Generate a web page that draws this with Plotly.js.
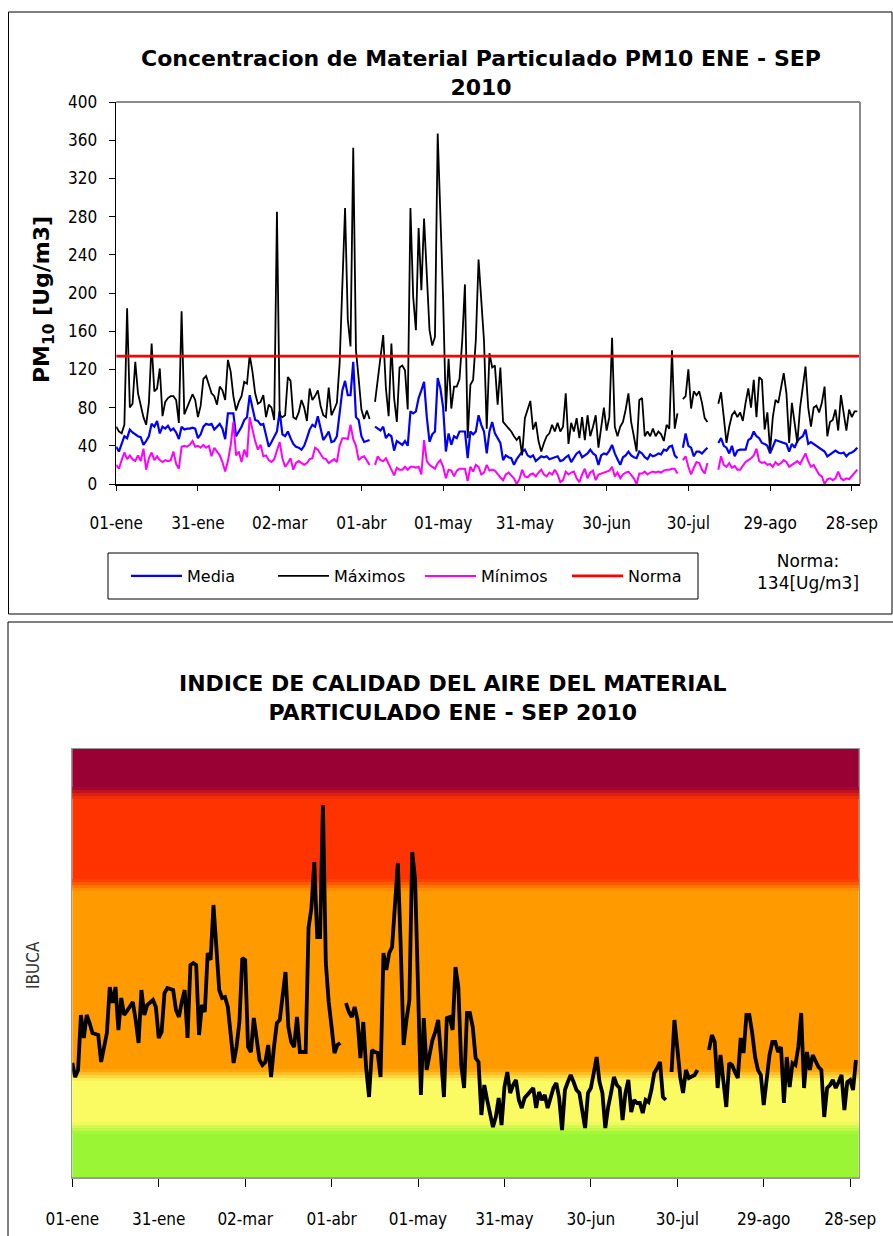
<!DOCTYPE html>
<html><head><meta charset="utf-8">
<script src="https://cdn.plot.ly/plotly-3.0.1.min.js"></script>
<style>html,body{margin:0;padding:0;background:#fff;}#chart{width:893px;height:1236px;}</style>
</head><body><div id="chart"></div>
<script>
// ---------------- DATA ----------------
const startDate = '2010-01-01';
const endDate = '2010-10-01';
const tickDates = ['2010-01-01','2010-01-31','2010-03-02','2010-04-01','2010-05-01','2010-05-31','2010-06-30','2010-07-30','2010-08-29','2010-09-28'];
const tickLabels = ['01-ene','31-ene','02-mar','01-abr','01-may','31-may','30-jun','30-jul','29-ago','28-sep'];
const seriesNames = ['Media','Máximos','Mínimos','Norma'];
const norma = 134;

const maximos = [
60,55,53,62,184,80,84,128,95,82,
70,62,85,147,97,100,121,71,86,90,
92,92,88,64,181,73,80,88,94,88,
70,82,110,113,105,95,92,83,102,98,
88,130,118,92,77,86,92,107,105,135,
118,95,84,86,93,70,83,80,67,285,
72,70,72,112,108,70,68,75,88,80,
66,100,88,92,98,82,72,70,101,72,
78,85,126,200,289,172,144,352,140,110,
78,68,77,68,null,86,110,135,156,100,
71,147,90,65,122,124,119,78,289,196,
161,268,203,278,220,161,145,154,367,290,
193,76,131,79,102,102,110,150,209,48,
104,109,151,235,190,150,58,137,122,124,
83,122,65,62,58,55,50,46,50,30,
69,77,87,57,65,45,34,43,50,53,
62,55,64,55,60,95,42,64,55,69,
48,70,46,72,50,60,72,38,60,80,
56,70,153,60,50,60,65,78,95,65,
50,34,88,90,50,55,50,58,50,55,
52,45,62,58,140,58,74,null,89,92,
120,79,97,93,97,85,69,65,null,null,
null,84,96,70,43,60,72,76,70,75,
66,85,100,80,109,70,112,109,57,75,
35,70,88,85,100,116,95,43,85,65,
43,80,99,123,80,60,80,82,75,85,
102,50,65,67,78,56,93,72,56,78,
70,76,76];

const media = [
39,34,42,50,48,57,54,52,50,49,
41,45,50,63,60,66,53,60,58,61,
56,58,54,47,60,57,58,58,59,58,
48,52,60,63,62,63,57,60,63,58,
47,74,74,74,50,55,60,67,70,93,
80,67,66,62,63,52,39,44,50,55,
76,52,50,55,48,42,39,38,36,40,
48,57,62,60,71,60,46,50,55,44,
45,50,76,98,108,93,93,128,70,67,
50,44,45,46,null,60,58,56,60,48,
52,50,35,45,43,41,45,40,76,74,
76,90,98,107,70,44,52,55,111,100,
80,34,53,41,50,48,55,55,55,27,
55,52,55,72,62,55,32,55,65,53,
48,43,25,30,28,27,20,26,30,34,
36,30,28,30,24,27,29,28,29,26,
27,28,29,24,25,28,30,23,28,32,
34,28,30,32,36,32,30,20,30,32,
31,35,41,32,26,20,28,30,34,30,
28,27,34,32,28,26,31,29,30,32,
31,36,35,39,40,30,27,null,38,53,
40,38,29,34,34,32,35,38,null,null,
null,43,48,40,38,32,40,29,35,36,
36,36,46,48,55,50,48,43,42,40,
32,40,46,45,44,43,42,34,42,38,
45,48,50,57,42,44,42,40,38,36,
34,29,31,33,35,33,32,33,29,32,
33,35,38];

const minimos = [
20,16,25,33,26,30,26,24,30,24,
37,15,27,33,25,29,25,23,25,24,
25,34,21,16,39,40,39,41,45,39,
40,38,41,38,40,29,38,34,30,23,
13,24,40,65,30,34,23,36,28,70,
56,45,36,41,29,30,25,23,26,35,
44,27,18,22,27,15,22,24,22,20,
22,26,27,38,36,32,27,26,22,24,
26,23,40,48,48,47,62,47,40,25,
28,29,24,20,null,20,29,25,24,27,
20,15,9,17,15,15,18,15,18,18,
17,18,10,46,24,20,18,16,22,25,
18,6,15,14,8,14,16,16,16,3,
18,13,20,18,10,12,20,14,15,14,
10,7,4,10,12,9,6,0,5,15,
8,7,10,11,8,12,15,10,8,12,
10,15,10,2,4,13,10,12,13,6,
2,10,16,6,12,14,4,10,11,12,
13,14,18,8,12,6,10,12,13,10,
6,0,11,11,13,10,12,13,12,13,
12,14,15,15,16,16,11,null,25,29,
18,10,17,23,22,15,11,22,null,null,
null,15,29,20,18,22,17,19,15,15,
19,23,25,27,30,37,24,22,23,20,
21,18,23,20,22,25,23,18,20,22,
24,21,27,32,24,18,20,15,10,8,
0,5,6,4,6,13,6,4,6,5,
8,11,15];

const ibuca = [
114,100,107,162,139,162,154,144,143,142,
115,130,144,190,174,190,147,179,162,166,
170,175,157,134,187,162,172,175,177,170,
139,145,184,189,188,187,167,160,175,187,
139,212,214,212,142,172,165,224,217,272,
230,187,179,180,170,140,114,130,155,219,
217,130,125,159,135,117,112,115,132,100,
130,154,157,180,205,150,135,130,160,125,
125,125,249,269,315,240,240,372,214,175,
150,124,132,134,null,174,165,160,170,157,
119,155,109,80,127,125,124,100,224,207,
224,230,280,314,230,132,157,177,325,297,
190,82,159,107,122,137,145,157,120,80,
159,160,147,210,190,112,89,164,164,150,
119,115,62,92,77,65,50,60,79,52,
90,105,84,92,97,77,69,79,82,86,
89,69,85,77,82,69,80,89,94,79,
47,87,95,102,95,87,84,65,49,84,
89,104,120,95,84,49,70,84,100,92,
89,57,84,97,65,77,74,74,64,77,
75,87,104,109,115,80,77,null,105,157,
129,100,84,107,99,100,102,107,null,null,
null,127,142,135,89,122,97,70,114,112,
105,99,139,124,162,162,144,120,107,102,
72,100,122,135,135,125,130,74,120,90,
114,112,130,164,89,125,107,122,115,110,
107,60,89,92,97,89,95,102,67,95,
97,87,117];

// IBUCA category limits (same units as ibuca) and colours, bottom to top
const bandLimits = [0, 49, 102, 292, 384, 428];
const bandColors = ['#9AF534', '#FAFA62', '#FF9A00', '#FF3300', '#990033'];

// ---------------- BUILD ----------------
function dayDates(n){
  const out=[]; const d0=Date.UTC(2010,0,1);
  for(let i=0;i<n;i++){ out.push(new Date(d0+i*86400000).toISOString().slice(0,10)); }
  return out;
}
const dates = dayDates(media.length);
const W=893, H=1236;
const px = x => x/W;
const py = y => 1 - y/H;
const NARROW = '"Liberation Sans Narrow","Arial Narrow","DejaVu Sans Condensed","Roboto Condensed",sans-serif';
const GOTHIC = '"DejaVu Sans",Verdana,sans-serif';

function hex2rgb(h){h=h.replace('#','');return [parseInt(h.slice(0,2),16),parseInt(h.slice(2,4),16),parseInt(h.slice(4,6),16)];}
function mix(a,b,t){const A=hex2rgb(a),B=hex2rgb(b);return 'rgb('+A.map((v,i)=>Math.round(v+(B[i]-v)*t)).join(',')+')';}

const shapes = [];
// panel frames
shapes.push({type:'rect',xref:'paper',yref:'paper',x0:px(8.5),x1:px(892),y0:py(614),y1:py(12),line:{color:'#000',width:1}});
shapes.push({type:'line',xref:'paper',yref:'paper',x0:px(8),x1:1.01,y0:py(622),y1:py(622),line:{color:'#000',width:1}});
shapes.push({type:'line',xref:'paper',yref:'paper',x0:px(8),x1:px(8),y0:py(622),y1:-0.01,line:{color:'#000',width:1}});
// top plot gray top/right edges
shapes.push({type:'line',xref:'x domain',yref:'y domain',x0:0,x1:1,y0:1,y1:1,line:{color:'#8c8c8c',width:2}});
shapes.push({type:'line',xref:'x domain',yref:'y domain',x0:1,x1:1,y0:0,y1:1,line:{color:'#8c8c8c',width:2}});
// legend box
shapes.push({type:'rect',xref:'paper',yref:'paper',x0:px(108),x1:px(698),y0:py(599),y1:py(553),line:{color:'#000',width:1},fillcolor:'rgba(0,0,0,0)'});
// IBUCA bands
for(let i=0;i<bandColors.length;i++){
  shapes.push({type:'rect',layer:'below',xref:'x2 domain',yref:'y2',x0:0,x1:1,y0:bandLimits[i],y1:bandLimits[i+1],fillcolor:bandColors[i],line:{width:0}});
}
// soft transitions between bands
for(let i=1;i<bandColors.length;i++){
  const b=bandLimits[i], lo=bandColors[i-1], hi=bandColors[i];
  const steps=[0.125,0.375,0.625,0.875];
  steps.forEach((t,k)=>{
    shapes.push({type:'rect',layer:'below',xref:'x2 domain',yref:'y2',x0:0,x1:1,y0:b-6+3*k,y1:b-3+3*k,fillcolor:mix(lo,hi,t),line:{width:0}});
  });
}

const traces = [
  {x:dates,y:media,name:seriesNames[0],type:'scatter',mode:'lines',line:{color:'#0000FF',width:2.2},xaxis:'x',yaxis:'y'},
  {x:dates,y:maximos,name:seriesNames[1],type:'scatter',mode:'lines',line:{color:'#000000',width:1.8},xaxis:'x',yaxis:'y'},
  {x:dates,y:minimos,name:seriesNames[2],type:'scatter',mode:'lines',line:{color:'#FF00FF',width:2},xaxis:'x',yaxis:'y'},
  {x:[startDate,endDate],y:[norma,norma],name:seriesNames[3],type:'scatter',mode:'lines',line:{color:'#FF0000',width:2.8},xaxis:'x',yaxis:'y'},
  {x:dates,y:ibuca,name:'IBUCA',type:'scatter',mode:'lines',line:{color:'#000000',width:3.8},xaxis:'x2',yaxis:'y2',showlegend:false}
];

const layout = {
  width:W,height:H,autosize:false,
  margin:{l:0,r:0,t:0,b:0,pad:0},
  paper_bgcolor:'#fff',plot_bgcolor:'#fff',
  showlegend:true,
  title:{text:'Concentracion de Material Particulado PM10 ENE - SEP<br>2010',x:px(481),xanchor:'center',y:py(66),yanchor:'middle',
         font:{family:GOTHIC,size:22,color:'#000',weight:'bold'}},
  xaxis:{domain:[px(116.2),px(860)],anchor:'y',type:'date',range:[startDate,endDate],
         tickmode:'array',tickvals:tickDates,ticktext:tickLabels,ticks:'outside',ticklen:5,tickwidth:1,tickcolor:'#000',
         showline:true,linecolor:'#000',linewidth:1.5,showgrid:false,zeroline:false,
         tickfont:{family:NARROW,size:17,color:'#000'},ticklabelstandoff:18},
  yaxis:{domain:[py(484),py(102)],anchor:'x',range:[0,400],tickmode:'linear',tick0:0,dtick:40,
         ticks:'outside',ticklen:6,tickcolor:'#000',showline:true,linecolor:'#000',linewidth:1.5,showgrid:false,zeroline:false,
         tickfont:{family:NARROW,size:17,color:'#000'},ticklabelstandoff:8},
  xaxis2:{domain:[px(72.3),px(858.8)],anchor:'y2',type:'date',range:[startDate,endDate],
          tickmode:'array',tickvals:tickDates,ticktext:tickLabels,ticks:'outside',ticklen:8,tickwidth:1,tickcolor:'#000',
          showline:true,linecolor:'#999',linewidth:1.5,mirror:true,showgrid:false,zeroline:false,
          tickfont:{family:NARROW,size:17,color:'#000'},ticklabelstandoff:18},
  yaxis2:{domain:[py(1177),py(749)],anchor:'x2',range:[bandLimits[0],bandLimits[bandLimits.length-1]],
          showticklabels:false,ticks:'',showline:true,linecolor:'#999',linewidth:1.5,mirror:true,showgrid:false,zeroline:false},
  legend:{orientation:'h',x:px(126),xanchor:'left',y:py(576),yanchor:'middle',bgcolor:'rgba(0,0,0,0)',borderwidth:0,
          font:{family:GOTHIC,size:16,color:'#000'},itemwidth:51,entrywidth:81,entrywidthmode:'pixels',traceorder:'normal'},
  shapes:shapes,
  annotations:[
    {xref:'paper',yref:'paper',x:px(43),y:py(300),text:'<b>PM<sub>10</sub> [Ug/m3]</b>',textangle:-90,showarrow:false,
     xanchor:'center',yanchor:'middle',font:{family:GOTHIC,size:22,color:'#000'}},
    {xref:'paper',yref:'paper',x:px(808),y:py(572),text:'Norma:<br>134[Ug/m3]',showarrow:false,xanchor:'center',yanchor:'middle',
     font:{family:GOTHIC,size:17,color:'#000'}},
    {xref:'paper',yref:'paper',x:px(453),y:py(698),text:'<b>INDICE DE CALIDAD DEL AIRE DEL MATERIAL<br>PARTICULADO ENE - SEP 2010</b>',showarrow:false,
     xanchor:'center',yanchor:'middle',font:{family:GOTHIC,size:22,color:'#000'}},
    {xref:'paper',yref:'paper',x:px(33),y:py(965),text:'IBUCA',textangle:-90,showarrow:false,xanchor:'center',yanchor:'middle',
     font:{family:NARROW,size:17,color:'#333'}}
  ]
};
Plotly.newPlot('chart',traces,layout,{staticPlot:true,displayModeBar:false});
</script></body></html>
